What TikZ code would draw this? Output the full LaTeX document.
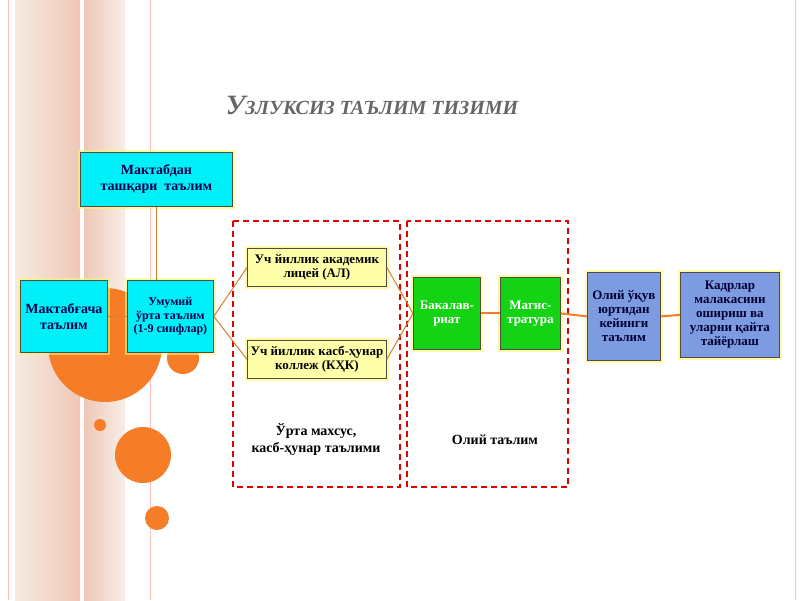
\documentclass[tikz,border=0pt]{standalone}
\usepackage{fontspec}
\setmainfont{Liberation Serif}
\definecolor{aqua}{RGB}{0,240,250}
\definecolor{sblue}{RGB}{125,155,225}
\definecolor{lyel}{RGB}{255,255,170}
\definecolor{gre}{RGB}{20,210,20}
\definecolor{orc}{RGB}{245,125,40}
\begin{document}
\begin{tikzpicture}[x=1pt,y=-1pt,
 box/.style={draw=black!70,line width=0.8pt,align=center,font=\bfseries\fontsize{13}{14}\selectfont,inner sep=1pt,anchor=north west,
   preaction={draw=yellow!60,line width=5pt,opacity=0.6}},
 cy/.style={box,fill=aqua,text=blue!30!black},
 yl/.style={box,fill=lyel,text=black},
 gr/.style={box,fill=gre,text=white},
 bl/.style={box,fill=sblue,text=blue!20!black},
 con/.style={draw=brown!70!orange,line width=1pt},
 oc/.style={draw=orc,line width=2pt},
 dsh/.style={draw=red!90!black,dashed,line width=1.3pt,dash pattern=on 6pt off 4pt}]
\useasboundingbox (0,0) rectangle (800,600);
\fill[white] (0,0) rectangle (800,600);
% background stripes
\shade[left color=red!10!brown!15,right color=red!25!brown!35] (15,0) rectangle (80,600);
\shade[left color=red!25!brown!35,right color=red!10!brown!12] (84,0) rectangle (125,600);
\draw[pink,line width=1pt] (8,0) -- (8,600);
\draw[pink,line width=1pt] (150,0) -- (150,600);
\draw[pink,line width=1pt] (795,0) -- (795,600);
% circles
\fill[orc] (105,345) circle (57);
\fill[orc] (183,358) circle (16);
\fill[orc] (143,455) circle (28);
\fill[orc] (100,425) circle (6);
\fill[orc] (157,518) circle (12);
% title
\node (t) at (372,105) {\bfseries\itshape\color{gray!80!black}\fontsize{28}{30}\selectfont У\fontsize{20}{22}\selectfont ЗЛУКСИЗ ТАЪЛИМ ТИЗИМИ};
% dashed
\draw[dsh] (233,221) rectangle (400,487);
\draw[dsh] (407,221) rectangle (568,487);
% boxes
\node[cy,minimum width=152,minimum height=54,font=\bfseries\fontsize{14}{16}\selectfont] (a) at (80,152) {Мактабдан\\ташқари\ \ таълим};
\node[cy,minimum width=87,minimum height=72,font=\bfseries\fontsize{14}{16}\selectfont,inner sep=0pt] (b) at (20,280) {Мактабғача\\таълим};
\node[cy,minimum width=86,minimum height=72,font=\bfseries\fontsize{12}{13.5}\selectfont,inner sep=0pt] (c) at (127,280) {Умумий\\ўрта таълим\\(1-9 синфлар)};
\node[yl,minimum width=139,minimum height=38] (d) at (247,248) {Уч йиллик академик\\лицей (АЛ)};
\node[yl,minimum width=139,minimum height=38] (e) at (247,340) {Уч йиллик касб-ҳунар\\коллеж (КҲК)};
\node[gr,minimum width=67,minimum height=72] (f) at (413,277) {Бакалав-\\риат};
\node[gr,minimum width=60,minimum height=72] (g) at (500,277) {Магис-\\тратура};
\node[bl,minimum width=73,minimum height=88] (h) at (587,272) {Олий ўқув\\юртидан\\кейинги\\таълим};
\node[bl,minimum width=99,minimum height=85] (i) at (680,272) {Кадрлар\\малакасини\\ошириш ва\\уларни қайта\\тайёрлаш};
% labels
\node[font=\bfseries\fontsize{14}{17}\selectfont,align=center] (l1) at (316,440) {Ўрта махсус,\\касб-ҳунар таълими};
\node[font=\bfseries\fontsize{14}{17}\selectfont] (l2) at (495,440) {Олий таълим};
% connectors
\draw[con] (a.south) -- (a.south |- c.north);
\draw[con] (b.east) -- (c.west);
\draw[con] (c.east) -- (d.west);
\draw[con] (c.east) -- (e.west);
\draw[con] (d.east) -- (f.west);
\draw[con] (e.east) -- (f.west);
\draw[oc] (f.east) -- (g.west);
\draw[oc] (g.east) -- (h.west);
\draw[oc] (h.east) -- (i.west);
\end{tikzpicture}
\end{document}
